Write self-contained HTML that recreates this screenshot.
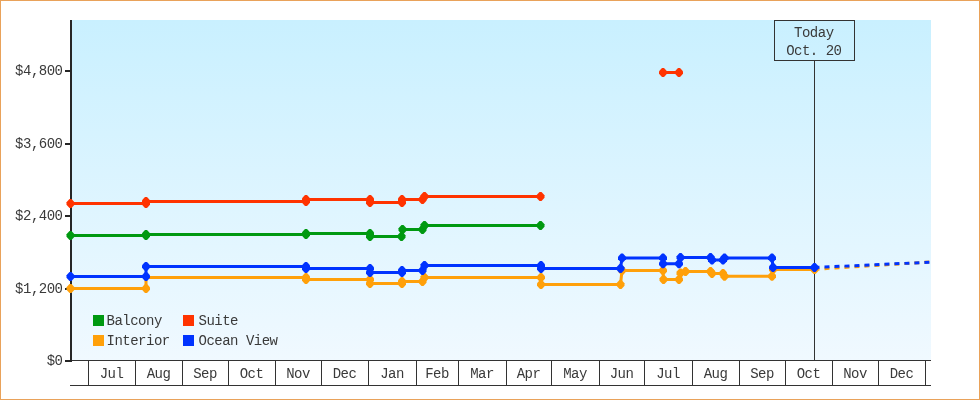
<!DOCTYPE html>
<html lang="en"><head><meta charset="utf-8"><title>Price chart</title>
<style>
html,body{margin:0;padding:0;background:#fff;}
body{width:980px;height:400px;position:relative;overflow:hidden;font-family:"Liberation Mono","DejaVu Sans Mono",monospace;}
#frame{position:absolute;left:0;top:0;width:978px;height:398px;border:1px solid #e9a25a;background:#fff;}
</style></head><body>
<div id="frame"></div>
<svg width="980" height="400" viewBox="0 0 980 400" style="position:absolute;left:0;top:0">
<defs><linearGradient id="bg" x1="0" y1="0" x2="0" y2="1"><stop offset="0" stop-color="#c9f0ff"/><stop offset="1" stop-color="#f0f9ff"/></linearGradient></defs>
<rect x="72" y="20" width="859" height="340" fill="url(#bg)"/>
<g shape-rendering="crispEdges" fill="#262626">
<rect x="70" y="20" width="2" height="342"/>
<rect x="65" y="70" width="6" height="2"/>
<rect x="65" y="143" width="6" height="2"/>
<rect x="65" y="215" width="6" height="2"/>
<rect x="65" y="288" width="6" height="2"/>
<rect x="65" y="360" width="6" height="2"/>
</g>
<g shape-rendering="crispEdges" fill="#333">
<rect x="72" y="360" width="859" height="1"/>
<rect x="70" y="385" width="861" height="1"/>
<rect x="88" y="360" width="1" height="26"/>
<rect x="135" y="360" width="1" height="26"/>
<rect x="182" y="360" width="1" height="26"/>
<rect x="228" y="360" width="1" height="26"/>
<rect x="275" y="360" width="1" height="26"/>
<rect x="321" y="360" width="1" height="26"/>
<rect x="368" y="360" width="1" height="26"/>
<rect x="416" y="360" width="1" height="26"/>
<rect x="458" y="360" width="1" height="26"/>
<rect x="506" y="360" width="1" height="26"/>
<rect x="551" y="360" width="1" height="26"/>
<rect x="599" y="360" width="1" height="26"/>
<rect x="644" y="360" width="1" height="26"/>
<rect x="692" y="360" width="1" height="26"/>
<rect x="739" y="360" width="1" height="26"/>
<rect x="785" y="360" width="1" height="26"/>
<rect x="832" y="360" width="1" height="26"/>
<rect x="878" y="360" width="1" height="26"/>
<rect x="925" y="360" width="1" height="26"/>
<rect x="814" y="60" width="1" height="300"/>
</g>
<rect x="774.5" y="20.5" width="80" height="40" fill="none" stroke="#333" stroke-width="1" shape-rendering="crispEdges"/>
<polyline fill="none" stroke="#009911" stroke-width="3" stroke-linejoin="round" points="70.5,235.5 146,235.5 146,234.5 306,234.5 306,233.5 370,233.5 370,236.5 401.5,236.5 402.5,229.5 422.5,229.5 424.5,225.5 540.5,225.5"/><polygon fill="#009911" points="69.50,231.00 71.50,231.00 74.50,234.30 74.50,236.70 71.50,240.00 69.50,240.00 66.50,236.70 66.50,234.30"/><polygon fill="#009911" points="145.00,231.00 147.00,231.00 150.00,234.30 150.00,236.70 147.00,240.00 145.00,240.00 142.00,236.70 142.00,234.30"/><polygon fill="#009911" points="145.00,230.00 147.00,230.00 150.00,233.30 150.00,235.70 147.00,239.00 145.00,239.00 142.00,235.70 142.00,233.30"/><polygon fill="#009911" points="305.00,230.00 307.00,230.00 310.00,233.30 310.00,235.70 307.00,239.00 305.00,239.00 302.00,235.70 302.00,233.30"/><polygon fill="#009911" points="305.00,229.00 307.00,229.00 310.00,232.30 310.00,234.70 307.00,238.00 305.00,238.00 302.00,234.70 302.00,232.30"/><polygon fill="#009911" points="369.00,229.00 371.00,229.00 374.00,232.30 374.00,234.70 371.00,238.00 369.00,238.00 366.00,234.70 366.00,232.30"/><polygon fill="#009911" points="369.00,232.00 371.00,232.00 374.00,235.30 374.00,237.70 371.00,241.00 369.00,241.00 366.00,237.70 366.00,235.30"/><polygon fill="#009911" points="400.50,232.00 402.50,232.00 405.50,235.30 405.50,237.70 402.50,241.00 400.50,241.00 397.50,237.70 397.50,235.30"/><polygon fill="#009911" points="401.50,225.00 403.50,225.00 406.50,228.30 406.50,230.70 403.50,234.00 401.50,234.00 398.50,230.70 398.50,228.30"/><polygon fill="#009911" points="421.50,225.00 423.50,225.00 426.50,228.30 426.50,230.70 423.50,234.00 421.50,234.00 418.50,230.70 418.50,228.30"/><polygon fill="#009911" points="423.50,221.00 425.50,221.00 428.50,224.30 428.50,226.70 425.50,230.00 423.50,230.00 420.50,226.70 420.50,224.30"/><polygon fill="#009911" points="539.50,221.00 541.50,221.00 544.50,224.30 544.50,226.70 541.50,230.00 539.50,230.00 536.50,226.70 536.50,224.30"/>

<polyline fill="none" stroke="#ff3300" stroke-width="3" stroke-linejoin="round" points="70.5,203.5 146,203.5 146,201.5 306,201.5 306,199.5 370,199.5 370,202.5 402,202.5 402,199.5 422.5,199.5 424.5,196.5 540.5,196.5"/><polygon fill="#ff3300" points="69.50,199.00 71.50,199.00 74.50,202.30 74.50,204.70 71.50,208.00 69.50,208.00 66.50,204.70 66.50,202.30"/><polygon fill="#ff3300" points="145.00,199.00 147.00,199.00 150.00,202.30 150.00,204.70 147.00,208.00 145.00,208.00 142.00,204.70 142.00,202.30"/><polygon fill="#ff3300" points="145.00,197.00 147.00,197.00 150.00,200.30 150.00,202.70 147.00,206.00 145.00,206.00 142.00,202.70 142.00,200.30"/><polygon fill="#ff3300" points="305.00,197.00 307.00,197.00 310.00,200.30 310.00,202.70 307.00,206.00 305.00,206.00 302.00,202.70 302.00,200.30"/><polygon fill="#ff3300" points="305.00,195.00 307.00,195.00 310.00,198.30 310.00,200.70 307.00,204.00 305.00,204.00 302.00,200.70 302.00,198.30"/><polygon fill="#ff3300" points="369.00,195.00 371.00,195.00 374.00,198.30 374.00,200.70 371.00,204.00 369.00,204.00 366.00,200.70 366.00,198.30"/><polygon fill="#ff3300" points="369.00,198.00 371.00,198.00 374.00,201.30 374.00,203.70 371.00,207.00 369.00,207.00 366.00,203.70 366.00,201.30"/><polygon fill="#ff3300" points="401.00,198.00 403.00,198.00 406.00,201.30 406.00,203.70 403.00,207.00 401.00,207.00 398.00,203.70 398.00,201.30"/><polygon fill="#ff3300" points="401.00,195.00 403.00,195.00 406.00,198.30 406.00,200.70 403.00,204.00 401.00,204.00 398.00,200.70 398.00,198.30"/><polygon fill="#ff3300" points="421.50,195.00 423.50,195.00 426.50,198.30 426.50,200.70 423.50,204.00 421.50,204.00 418.50,200.70 418.50,198.30"/><polygon fill="#ff3300" points="423.50,192.00 425.50,192.00 428.50,195.30 428.50,197.70 425.50,201.00 423.50,201.00 420.50,197.70 420.50,195.30"/><polygon fill="#ff3300" points="539.50,192.00 541.50,192.00 544.50,195.30 544.50,197.70 541.50,201.00 539.50,201.00 536.50,197.70 536.50,195.30"/>

<polyline fill="none" stroke="#ff3300" stroke-width="3" stroke-linejoin="round" points="663,72.5 679,72.5"/><polygon fill="#ff3300" points="662.00,68.00 664.00,68.00 667.00,71.30 667.00,73.70 664.00,77.00 662.00,77.00 659.00,73.70 659.00,71.30"/><polygon fill="#ff3300" points="678.00,68.00 680.00,68.00 683.00,71.30 683.00,73.70 680.00,77.00 678.00,77.00 675.00,73.70 675.00,71.30"/>

<polyline fill="none" stroke="#ffa00a" stroke-width="3" stroke-linejoin="round" points="70.5,288.5 146,288.5 146,277.5 306,277.5 306,279.5 370,279.5 370,283.5 402,283.5 402,281.5 422.5,281.5 424.5,277.5 541,277.5 541,284.5 620.5,284.5 622,270.5 663,270.5 663.5,279.5 679,279.5 680.5,273 685.5,271.5 710.5,271.5 712,273.5 723,273.5 724.5,276.25 772,276.25 773,269.5 814.5,269.5"/><polygon fill="#ffa00a" points="69.50,284.00 71.50,284.00 74.50,287.30 74.50,289.70 71.50,293.00 69.50,293.00 66.50,289.70 66.50,287.30"/><polygon fill="#ffa00a" points="145.00,284.00 147.00,284.00 150.00,287.30 150.00,289.70 147.00,293.00 145.00,293.00 142.00,289.70 142.00,287.30"/><polygon fill="#ffa00a" points="305.00,273.00 307.00,273.00 310.00,276.30 310.00,278.70 307.00,282.00 305.00,282.00 302.00,278.70 302.00,276.30"/><polygon fill="#ffa00a" points="305.00,275.00 307.00,275.00 310.00,278.30 310.00,280.70 307.00,284.00 305.00,284.00 302.00,280.70 302.00,278.30"/><polygon fill="#ffa00a" points="369.00,275.00 371.00,275.00 374.00,278.30 374.00,280.70 371.00,284.00 369.00,284.00 366.00,280.70 366.00,278.30"/><polygon fill="#ffa00a" points="369.00,279.00 371.00,279.00 374.00,282.30 374.00,284.70 371.00,288.00 369.00,288.00 366.00,284.70 366.00,282.30"/><polygon fill="#ffa00a" points="401.00,279.00 403.00,279.00 406.00,282.30 406.00,284.70 403.00,288.00 401.00,288.00 398.00,284.70 398.00,282.30"/><polygon fill="#ffa00a" points="401.00,277.00 403.00,277.00 406.00,280.30 406.00,282.70 403.00,286.00 401.00,286.00 398.00,282.70 398.00,280.30"/><polygon fill="#ffa00a" points="421.50,277.00 423.50,277.00 426.50,280.30 426.50,282.70 423.50,286.00 421.50,286.00 418.50,282.70 418.50,280.30"/><polygon fill="#ffa00a" points="423.50,273.00 425.50,273.00 428.50,276.30 428.50,278.70 425.50,282.00 423.50,282.00 420.50,278.70 420.50,276.30"/><polygon fill="#ffa00a" points="540.00,273.00 542.00,273.00 545.00,276.30 545.00,278.70 542.00,282.00 540.00,282.00 537.00,278.70 537.00,276.30"/><polygon fill="#ffa00a" points="540.00,280.00 542.00,280.00 545.00,283.30 545.00,285.70 542.00,289.00 540.00,289.00 537.00,285.70 537.00,283.30"/><polygon fill="#ffa00a" points="619.50,280.00 621.50,280.00 624.50,283.30 624.50,285.70 621.50,289.00 619.50,289.00 616.50,285.70 616.50,283.30"/><polygon fill="#ffa00a" points="621.00,266.00 623.00,266.00 626.00,269.30 626.00,271.70 623.00,275.00 621.00,275.00 618.00,271.70 618.00,269.30"/><polygon fill="#ffa00a" points="662.00,266.00 664.00,266.00 667.00,269.30 667.00,271.70 664.00,275.00 662.00,275.00 659.00,271.70 659.00,269.30"/><polygon fill="#ffa00a" points="662.50,275.00 664.50,275.00 667.50,278.30 667.50,280.70 664.50,284.00 662.50,284.00 659.50,280.70 659.50,278.30"/><polygon fill="#ffa00a" points="678.00,275.00 680.00,275.00 683.00,278.30 683.00,280.70 680.00,284.00 678.00,284.00 675.00,280.70 675.00,278.30"/><polygon fill="#ffa00a" points="679.50,268.50 681.50,268.50 684.50,271.80 684.50,274.20 681.50,277.50 679.50,277.50 676.50,274.20 676.50,271.80"/><polygon fill="#ffa00a" points="684.50,267.00 686.50,267.00 689.50,270.30 689.50,272.70 686.50,276.00 684.50,276.00 681.50,272.70 681.50,270.30"/><polygon fill="#ffa00a" points="709.50,267.00 711.50,267.00 714.50,270.30 714.50,272.70 711.50,276.00 709.50,276.00 706.50,272.70 706.50,270.30"/><polygon fill="#ffa00a" points="711.00,269.00 713.00,269.00 716.00,272.30 716.00,274.70 713.00,278.00 711.00,278.00 708.00,274.70 708.00,272.30"/><polygon fill="#ffa00a" points="722.00,269.00 724.00,269.00 727.00,272.30 727.00,274.70 724.00,278.00 722.00,278.00 719.00,274.70 719.00,272.30"/><polygon fill="#ffa00a" points="723.50,271.75 725.50,271.75 728.50,275.05 728.50,277.45 725.50,280.75 723.50,280.75 720.50,277.45 720.50,275.05"/><polygon fill="#ffa00a" points="771.00,271.75 773.00,271.75 776.00,275.05 776.00,277.45 773.00,280.75 771.00,280.75 768.00,277.45 768.00,275.05"/><polygon fill="#ffa00a" points="772.00,265.00 774.00,265.00 777.00,268.30 777.00,270.70 774.00,274.00 772.00,274.00 769.00,270.70 769.00,268.30"/><polygon fill="#ffa00a" points="813.50,265.00 815.50,265.00 818.50,268.30 818.50,270.70 815.50,274.00 813.50,274.00 810.50,270.70 810.50,268.30"/>

<line x1="814.5" y1="269.3" x2="930" y2="262.0" stroke="#ffa00a" stroke-width="3" stroke-dasharray="5 5" stroke-dashoffset="0"/>
<polyline fill="none" stroke="#0033ff" stroke-width="3" stroke-linejoin="round" points="70.5,276.5 146,276.5 146,266.5 306,266.5 306,268.5 370,268.5 370,272.5 402,272.5 402,270.5 422.5,270.5 424.5,265.5 541,265.5 541,268.5 620.5,268.5 622,258 663,258 663,263.75 679,263.75 680.5,257.5 710.5,257.5 712,260 723,260 724.5,258 772,258 773,267.5 814.5,267.5"/><polygon fill="#0033ff" points="69.50,272.00 71.50,272.00 74.50,275.30 74.50,277.70 71.50,281.00 69.50,281.00 66.50,277.70 66.50,275.30"/><polygon fill="#0033ff" points="145.00,272.00 147.00,272.00 150.00,275.30 150.00,277.70 147.00,281.00 145.00,281.00 142.00,277.70 142.00,275.30"/><polygon fill="#0033ff" points="145.00,262.00 147.00,262.00 150.00,265.30 150.00,267.70 147.00,271.00 145.00,271.00 142.00,267.70 142.00,265.30"/><polygon fill="#0033ff" points="305.00,262.00 307.00,262.00 310.00,265.30 310.00,267.70 307.00,271.00 305.00,271.00 302.00,267.70 302.00,265.30"/><polygon fill="#0033ff" points="305.00,264.00 307.00,264.00 310.00,267.30 310.00,269.70 307.00,273.00 305.00,273.00 302.00,269.70 302.00,267.30"/><polygon fill="#0033ff" points="369.00,264.00 371.00,264.00 374.00,267.30 374.00,269.70 371.00,273.00 369.00,273.00 366.00,269.70 366.00,267.30"/><polygon fill="#0033ff" points="369.00,268.00 371.00,268.00 374.00,271.30 374.00,273.70 371.00,277.00 369.00,277.00 366.00,273.70 366.00,271.30"/><polygon fill="#0033ff" points="401.00,268.00 403.00,268.00 406.00,271.30 406.00,273.70 403.00,277.00 401.00,277.00 398.00,273.70 398.00,271.30"/><polygon fill="#0033ff" points="401.00,266.00 403.00,266.00 406.00,269.30 406.00,271.70 403.00,275.00 401.00,275.00 398.00,271.70 398.00,269.30"/><polygon fill="#0033ff" points="421.50,266.00 423.50,266.00 426.50,269.30 426.50,271.70 423.50,275.00 421.50,275.00 418.50,271.70 418.50,269.30"/><polygon fill="#0033ff" points="423.50,261.00 425.50,261.00 428.50,264.30 428.50,266.70 425.50,270.00 423.50,270.00 420.50,266.70 420.50,264.30"/><polygon fill="#0033ff" points="540.00,261.00 542.00,261.00 545.00,264.30 545.00,266.70 542.00,270.00 540.00,270.00 537.00,266.70 537.00,264.30"/><polygon fill="#0033ff" points="540.00,264.00 542.00,264.00 545.00,267.30 545.00,269.70 542.00,273.00 540.00,273.00 537.00,269.70 537.00,267.30"/><polygon fill="#0033ff" points="619.50,264.00 621.50,264.00 624.50,267.30 624.50,269.70 621.50,273.00 619.50,273.00 616.50,269.70 616.50,267.30"/><polygon fill="#0033ff" points="621.00,253.50 623.00,253.50 626.00,256.80 626.00,259.20 623.00,262.50 621.00,262.50 618.00,259.20 618.00,256.80"/><polygon fill="#0033ff" points="662.00,253.50 664.00,253.50 667.00,256.80 667.00,259.20 664.00,262.50 662.00,262.50 659.00,259.20 659.00,256.80"/><polygon fill="#0033ff" points="662.00,259.25 664.00,259.25 667.00,262.55 667.00,264.95 664.00,268.25 662.00,268.25 659.00,264.95 659.00,262.55"/><polygon fill="#0033ff" points="678.00,259.25 680.00,259.25 683.00,262.55 683.00,264.95 680.00,268.25 678.00,268.25 675.00,264.95 675.00,262.55"/><polygon fill="#0033ff" points="679.50,253.00 681.50,253.00 684.50,256.30 684.50,258.70 681.50,262.00 679.50,262.00 676.50,258.70 676.50,256.30"/><polygon fill="#0033ff" points="709.50,253.00 711.50,253.00 714.50,256.30 714.50,258.70 711.50,262.00 709.50,262.00 706.50,258.70 706.50,256.30"/><polygon fill="#0033ff" points="711.00,255.50 713.00,255.50 716.00,258.80 716.00,261.20 713.00,264.50 711.00,264.50 708.00,261.20 708.00,258.80"/><polygon fill="#0033ff" points="722.00,255.50 724.00,255.50 727.00,258.80 727.00,261.20 724.00,264.50 722.00,264.50 719.00,261.20 719.00,258.80"/><polygon fill="#0033ff" points="723.50,253.50 725.50,253.50 728.50,256.80 728.50,259.20 725.50,262.50 723.50,262.50 720.50,259.20 720.50,256.80"/><polygon fill="#0033ff" points="771.00,253.50 773.00,253.50 776.00,256.80 776.00,259.20 773.00,262.50 771.00,262.50 768.00,259.20 768.00,256.80"/><polygon fill="#0033ff" points="772.00,263.00 774.00,263.00 777.00,266.30 777.00,268.70 774.00,272.00 772.00,272.00 769.00,268.70 769.00,266.30"/><polygon fill="#0033ff" points="813.50,263.00 815.50,263.00 818.50,266.30 818.50,268.70 815.50,272.00 813.50,272.00 810.50,268.70 810.50,266.30"/>

<line x1="814.5" y1="267.5" x2="930" y2="262.2" stroke="#0033ff" stroke-width="3" stroke-dasharray="5 5"/>
<g shape-rendering="crispEdges">
<rect x="93" y="315" width="11" height="11" fill="#009911"/>
<rect x="93" y="335" width="11" height="11" fill="#ffa00a"/>
<rect x="183" y="315" width="11" height="11" fill="#ff3300"/>
<rect x="183" y="335" width="11" height="11" fill="#0033ff"/>
</g>
<g font-family="'Liberation Mono', 'DejaVu Sans Mono', monospace" font-size="14" letter-spacing="-0.5" fill="#3a3a3a">
<text x="62.5" y="74.5" text-anchor="end">$4,800</text>
<text x="62.5" y="147.5" text-anchor="end">$3,600</text>
<text x="62.5" y="219.5" text-anchor="end">$2,400</text>
<text x="62.5" y="292.5" text-anchor="end">$1,200</text>
<text x="62.5" y="364.5" text-anchor="end">$0</text>
<text x="111.5" y="377.5" text-anchor="middle">Jul</text>
<text x="158.5" y="377.5" text-anchor="middle">Aug</text>
<text x="205" y="377.5" text-anchor="middle">Sep</text>
<text x="251.5" y="377.5" text-anchor="middle">Oct</text>
<text x="298" y="377.5" text-anchor="middle">Nov</text>
<text x="344.5" y="377.5" text-anchor="middle">Dec</text>
<text x="392" y="377.5" text-anchor="middle">Jan</text>
<text x="437" y="377.5" text-anchor="middle">Feb</text>
<text x="482" y="377.5" text-anchor="middle">Mar</text>
<text x="528.5" y="377.5" text-anchor="middle">Apr</text>
<text x="575" y="377.5" text-anchor="middle">May</text>
<text x="621.5" y="377.5" text-anchor="middle">Jun</text>
<text x="668" y="377.5" text-anchor="middle">Jul</text>
<text x="715.5" y="377.5" text-anchor="middle">Aug</text>
<text x="762" y="377.5" text-anchor="middle">Sep</text>
<text x="808.5" y="377.5" text-anchor="middle">Oct</text>
<text x="855" y="377.5" text-anchor="middle">Nov</text>
<text x="901.5" y="377.5" text-anchor="middle">Dec</text>
<text x="106.5" y="324.5" text-anchor="start">Balcony</text>
<text x="106.5" y="344.5" text-anchor="start">Interior</text>
<text x="198.5" y="324.5" text-anchor="start">Suite</text>
<text x="198.5" y="344.5" text-anchor="start">Ocean View</text>
<text x="813.8" y="36.5" text-anchor="middle">Today</text>
<text x="813.8" y="54.5" text-anchor="middle">Oct. 20</text>
</g>
</svg>
</body></html>
